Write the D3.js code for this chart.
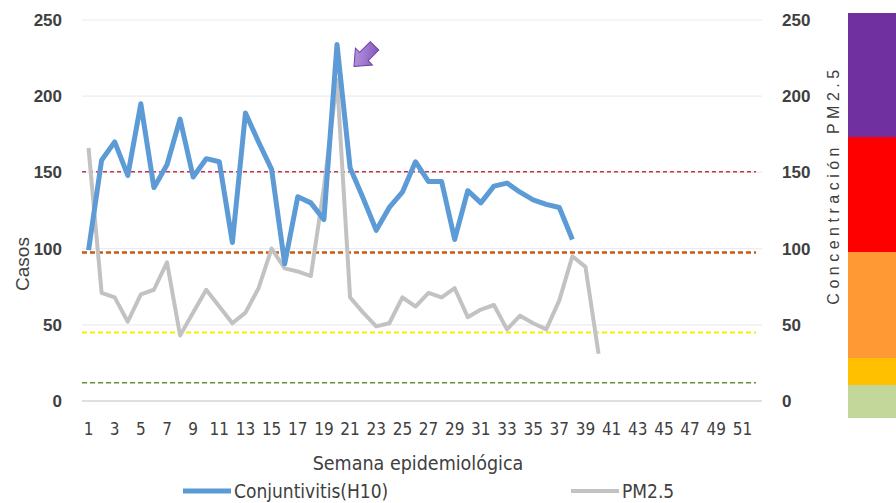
<!DOCTYPE html>
<html>
<head>
<meta charset="utf-8">
<script src="https://cdn.jsdelivr.net/npm/d3@7"></script>
<style>
  body { margin: 0; background: #fff; }
  svg { display: block; font-family: 'Liberation Sans', Arial, sans-serif; }
</style>
</head>
<body>
<div id="chart"></div>
<script>
// weeks 1..52 on the category axis
const weeks = d3.range(1, 53);
const weekTicks = weeks.filter((w) => w % 2 === 1);

// Conjuntivitis (H10) cases, weeks 1-38
const casos = [
    99, 158, 170, 148, 195, 140, 155, 185, 147, 159,
    157, 104, 189, 170, 152, 90, 134, 130, 119, 234,
    153, 133, 112, 127, 137, 157, 144, 144, 106, 138,
    130, 141, 143, 137, 132, 129, 127, 106,
];

// PM2.5 concentration, weeks 1-40
const pm25 = [
    166, 71, 68, 52, 70, 73, 91, 43, 58, 73,
    62, 51, 58, 74, 100, 87, 85, 82, 140, 211,
    68, 58, 49, 51, 68, 62, 71, 68, 74, 55,
    60, 63, 47, 56, 51, 47, 66, 95, 88, 31,
];

const leftTicks = [0, 50, 100, 150, 200, 250];
const rightTicks = [0, 50, 100, 150, 200, 250];

// PM2.5 thresholds
const limits = [150.4, 97.4, 45, 12];
const limitColors = ['#c8354b', '#c55a11', '#f2f200', '#6b8f3c'];

// colour scale image at right (bottom to top)
const bandNames = ['Buena', 'Regular', 'Mala', 'Muy mala', 'Extremadamente mala'];
const bandColors = ['#c4d79b', '#ffc000', '#ff9933', '#ff0000', '#7030a0'];
const bandWeights = [33, 27, 106, 115, 124];

const width = 896;
const height = 503;
const margin = { top: 20, right: 134, bottom: 102, left: 82 };
const innerW = width - margin.left - margin.right;
const innerH = height - margin.top - margin.bottom;
const narrow = "'Liberation Sans Narrow', 'DejaVu Sans Condensed', sans-serif";

const svg = d3
    .select('#chart')
    .append('svg')
    .attr('width', width)
    .attr('height', height);

const g = svg
    .append('g')
    .attr('transform', `translate(${margin.left}, ${margin.top})`);

const x = d3.scaleBand().domain(weeks).range([0, innerW]).padding(0);
const yLeft = d3.scaleLinear().domain([0, 250]).range([innerH, 0]);
const yRight = d3.scaleLinear().domain([0, 250]).range([innerH, 0]);
const cx = (w) => x(w) + x.bandwidth() / 2;

// gridlines
g.append('g')
    .selectAll('line')
    .data(leftTicks.filter((d) => d > 0))
    .join('line')
    .attr('x1', 0)
    .attr('x2', innerW)
    .attr('y1', (d) => yLeft(d))
    .attr('y2', (d) => yLeft(d))
    .attr('stroke', '#ececec')
    .attr('stroke-width', 1.2);

g.append('line')
    .attr('x1', 0)
    .attr('x2', innerW)
    .attr('y1', yLeft(0))
    .attr('y2', yLeft(0))
    .attr('stroke', '#d4d4d4')
    .attr('stroke-width', 1.5);

// threshold lines
g.append('g')
    .selectAll('line')
    .data(limits)
    .join('line')
    .attr('x1', 0)
    .attr('x2', innerW - 6)
    .attr('y1', (d) => yRight(d))
    .attr('y2', (d) => yRight(d))
    .attr('stroke', (_, i) => limitColors[i])
    .attr('stroke-width', (_, i) => (i === 1 ? 2.5 : i === 2 ? 2 : 1.5))
    .attr('stroke-dasharray', (_, i) => (i === 0 ? '4,3' : '5,3'));

// soft blur for the lines
const defs = svg.append('defs');
defs.append('filter')
    .attr('id', 'soft')
    .attr('x', '-10%').attr('y', '-10%')
    .attr('width', '120%').attr('height', '120%')
    .append('feGaussianBlur')
    .attr('stdDeviation', 0.6);

const grad = defs.append('linearGradient')
    .attr('id', 'arrowGrad')
    .attr('x1', '0').attr('y1', '0')
    .attr('x2', '1').attr('y2', '1');
grad.append('stop').attr('offset', '0%').attr('stop-color', '#c4a6e6');
grad.append('stop').attr('offset', '100%').attr('stop-color', '#7d4fb8');

const pmLine = d3
    .line()
    .x((_, i) => cx(weeks[i]))
    .y((d) => yRight(d));

const casosLine = d3
    .line()
    .x((_, i) => cx(weeks[i]))
    .y((d) => yLeft(d));

g.append('path')
    .datum(pm25)
    .attr('d', pmLine)
    .attr('fill', 'none')
    .attr('stroke', '#c2c2c2')
    .attr('stroke-width', 4)
    .attr('stroke-linejoin', 'round')
    .attr('filter', 'url(#soft)');

g.append('path')
    .datum(casos)
    .attr('d', casosLine)
    .attr('fill', 'none')
    .attr('stroke', '#5b9bd5')
    .attr('stroke-width', 5)
    .attr('stroke-linejoin', 'round')
    .attr('filter', 'url(#soft)');

// arrow pointing at the peak week
const peakIdx = casos.indexOf(d3.max(casos));
const ax = cx(weeks[peakIdx]) + 17;
const ay = yLeft(casos[peakIdx]) + 22;
g.append('path')
    .attr('d', 'M0,0 L14,-12 L14,-6 L29,-6 L29,6 L14,6 L14,12 Z')
    .attr('transform', `translate(${ax}, ${ay}) rotate(-45)`)
    .attr('fill', 'url(#arrowGrad)')
    .attr('stroke', '#6a3fa6')
    .attr('stroke-width', 1);

// axes
const tickFont = (sel) =>
    sel.selectAll('text')
        .attr('fill', '#404040')
        .style('font-size', '17px')
        .style('font-weight', 'bold');

const xAxis = g
    .append('g')
    .attr('transform', `translate(0, ${innerH + 22})`)
    .call(d3.axisBottom(x).tickValues(weekTicks).tickSize(0).tickPadding(0));
xAxis.select('.domain').remove();
xAxis.selectAll('text')
    .attr('fill', '#404040')
    .style('font-family', narrow)
    .style('font-size', '17px');

const yAxisL = g
    .append('g')
    .call(d3.axisLeft(yLeft).tickValues(leftTicks).tickSize(0).tickPadding(20));
yAxisL.select('.domain').remove();
tickFont(yAxisL);

const yAxisR = g
    .append('g')
    .attr('transform', `translate(${innerW}, 0)`)
    .call(d3.axisRight(yRight).tickValues(rightTicks).tickSize(0).tickPadding(20));
yAxisR.select('.domain').remove();
tickFont(yAxisR);

// axis titles
svg.append('text')
    .attr('transform', `translate(29, 264) rotate(-90)`)
    .attr('text-anchor', 'middle')
    .attr('fill', '#404040')
    .style('font-size', '19px')
    .text('Casos');

svg.append('text')
    .attr('transform', `translate(839, 185) rotate(-90)`)
    .attr('text-anchor', 'middle')
    .attr('fill', '#404040')
    .style('font-size', '16px')
    .style('letter-spacing', '4.5px')
    .text('Concentración PM2.5');

svg.append('text')
    .attr('x', margin.left + innerW / 2 - 4)
    .attr('y', 470)
    .attr('text-anchor', 'middle')
    .attr('fill', '#404040')
    .style('font-family', narrow)
    .style('font-size', '19.5px')
    .text('Semana epidemiológica');

// colour scale bar
const bandScale = d3
    .scaleLinear()
    .domain([0, d3.sum(bandWeights)])
    .range([418, 13]);
const bandStarts = d3.cumsum([0, ...bandWeights]);
svg.append('g')
    .selectAll('rect')
    .data(bandNames)
    .join('rect')
    .attr('x', 848)
    .attr('width', 48)
    .attr('y', (_, i) => bandScale(bandStarts[i + 1]))
    .attr('height', (_, i) => bandScale(bandStarts[i]) - bandScale(bandStarts[i + 1]))
    .attr('fill', (_, i) => bandColors[i]);

// legend
const legendItems = [
    { name: 'Conjuntivitis(H10)', color: '#5b9bd5', w: 5, x: 183 },
    { name: 'PM2.5', color: '#c2c2c2', w: 4, x: 571 },
];
const legend = svg
    .append('g')
    .selectAll('g')
    .data(legendItems)
    .join('g')
    .attr('transform', (d) => `translate(${d.x}, 491)`);
legend.append('line')
    .attr('x1', 0)
    .attr('x2', 48)
    .attr('stroke', (d) => d.color)
    .attr('stroke-width', (d) => d.w);
legend.append('text')
    .attr('x', 51)
    .attr('y', 7)
    .attr('fill', '#404040')
    .style('font-family', narrow)
    .style('font-size', '19px')
    .text((d) => d.name);
</script>
</body>
</html>
